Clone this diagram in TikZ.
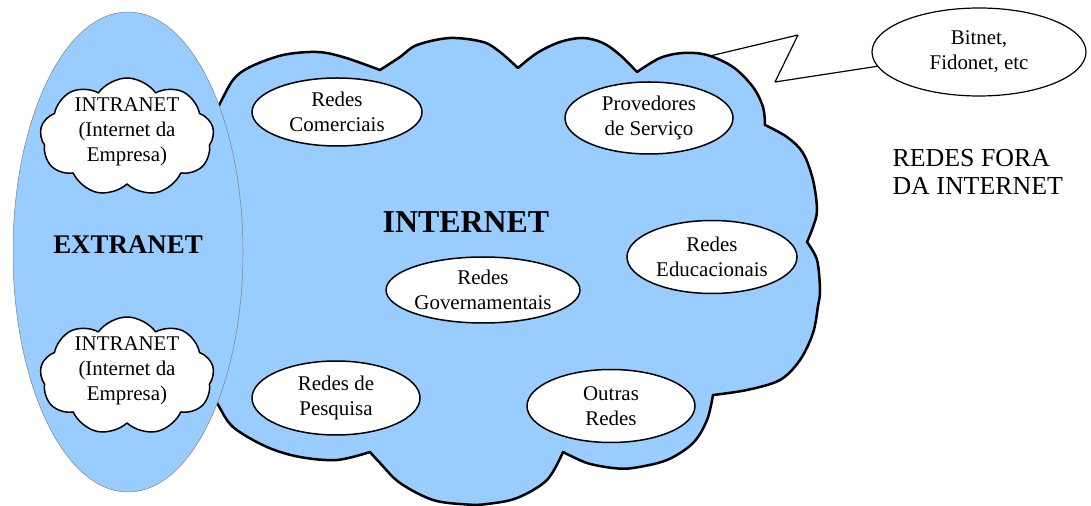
\documentclass[tikz,border=0pt]{standalone}
\usepackage{fontspec}
\setmainfont{Liberation Serif}
\usetikzlibrary{shapes.geometric,shapes.symbols}
\definecolor{netblue}{HTML}{99CCFF}
\begin{document}
\begin{tikzpicture}[line join=bevel,
  rede/.style={ellipse,draw,fill=white,line width=1.5bp,inner sep=0pt,align=center,font=\fontsize{21}{25}\selectfont},
  intranet/.style={cloud,cloud puffs=9,cloud puff arc=110,aspect=1.6,draw,fill=white,line width=1.5bp,inner sep=0pt,minimum width=174bp,minimum height=118bp},
  texto/.style={align=center,font=\fontsize{21}{25}\selectfont},
  titulo/.style={font=\fontsize{27}{30}\selectfont\bfseries},]
\useasboundingbox (0bp,0bp) rectangle (1091bp,506bp);
%% internet cloud
\filldraw [fill=netblue,line width=2.5bp,line join=round]
  plot [smooth,tension=0.55] coordinates {(207bp,381bp) (218bp,399bp) (233bp,426bp) (250bp,439bp) (283bp,451bp) (317bp,454bp) (343bp,449bp) (380bp,436bp)}
  -- plot [smooth,tension=0.55] coordinates {(380bp,436bp) (400bp,449bp) (417bp,461bp) (450bp,468bp) (483bp,464bp) (500bp,454bp) (518bp,438bp)}
  -- plot [smooth,tension=0.55] coordinates {(518bp,438bp) (537bp,453bp) (560bp,464bp) (583bp,468bp) (603bp,463bp) (620bp,451bp) (637bp,434bp)}
  -- plot [smooth,tension=0.55] coordinates {(637bp,434bp) (660bp,448bp) (683bp,453bp) (707bp,451bp) (733bp,439bp) (753bp,419bp) (763bp,399bp) (765bp,381bp)}
  -- plot [smooth,tension=0.55] coordinates {(765bp,381bp) (787bp,369bp) (803bp,353bp) (813bp,326bp) (817bp,296bp) (813bp,279bp) (807bp,264bp)}
  -- plot [smooth,tension=0.55] coordinates {(807bp,264bp) (817bp,246bp) (820bp,216bp) (818bp,200bp) (813bp,173bp) (800bp,146bp) (780bp,126bp) (747bp,116bp) (713bp,111bp)}
  -- plot [smooth,tension=0.55] coordinates {(713bp,111bp) (707bp,86bp) (693bp,63bp) (667bp,46bp) (633bp,38bp) (613bp,38bp) (587bp,43bp) (563bp,54bp)}
  -- plot [smooth,tension=0.55] coordinates {(563bp,54bp) (547bp,26bp) (517bp,8bp) (487bp,2bp) (467bp,1.5bp) (433bp,6bp) (400bp,23bp) (380bp,43bp) (370bp,54bp)}
  -- plot [smooth,tension=0.55] coordinates {(370bp,54bp) (337bp,46bp) (300bp,49bp) (267bp,59bp) (233bp,79bp) (217bp,103bp) (207bp,118bp)}
  -- cycle;
%% extranet
\node (extranet_area) at (128bp,254bp) [ellipse,draw=gray,fill=netblue,line width=0.5bp,minimum width=230bp,minimum height=480bp] {};
\node (intranet_1) at (127bp,369bp) [intranet] {};
\node (intranet_1_texto) at (127bp,374bp) [texto] {INTRANET\\(Internet da\\Empresa)};
\node (intranet_2) at (127bp,130bp) [intranet] {};
\node (intranet_2_texto) at (127bp,135bp) [texto] {INTRANET\\(Internet da\\Empresa)};
\node (extranet) at (128bp,261bp) [titulo] {EXTRANET};
\node (internet) at (466bp,284bp) [titulo,font=\fontsize{32}{35}\selectfont\bfseries] {INTERNET};
%% redes
\node (redes_comerciais) at (337bp,394bp) [rede,minimum width=170bp,minimum height=68bp] {Redes\\Comerciais};
\node (provedores) at (649bp,388bp) [rede,minimum width=168bp,minimum height=72bp] {Provedores\\de Serviço};
\node (educacionais) at (712bp,249bp) [rede,minimum width=170bp,minimum height=73bp] {Redes\\Educacionais};
\node (governamentais) at (483bp,216bp) [rede,minimum width=170bp,minimum height=66bp] {Redes\\Governamentais};
\node (pesquisa) at (336bp,108bp) [rede,minimum width=168bp,minimum height=74bp] {Redes de\\Pesquisa};
\node (outras) at (611bp,100bp) [rede,minimum width=168bp,minimum height=73bp] {Outras\\Redes};
%% fora da internet
\node (bitnet) at (979bp,454bp) [rede,line width=1.2bp,minimum width=214bp,minimum height=88bp] {Bitnet,\\Fidonet, etc};
\coordinate (callout_a) at (710bp,450bp);
\coordinate (callout_b) at (798bp,471bp);
\coordinate (callout_c) at (775bp,424bp);
\draw [line width=1.2bp] (callout_a) -- (callout_b) -- (callout_c) -- (bitnet.188);
\node (fora) at (889bp,334bp) [anchor=west,align=left,font=\fontsize{26}{29}\selectfont] {REDES FORA\\DA INTERNET};
%
\end{tikzpicture}
\end{document}
